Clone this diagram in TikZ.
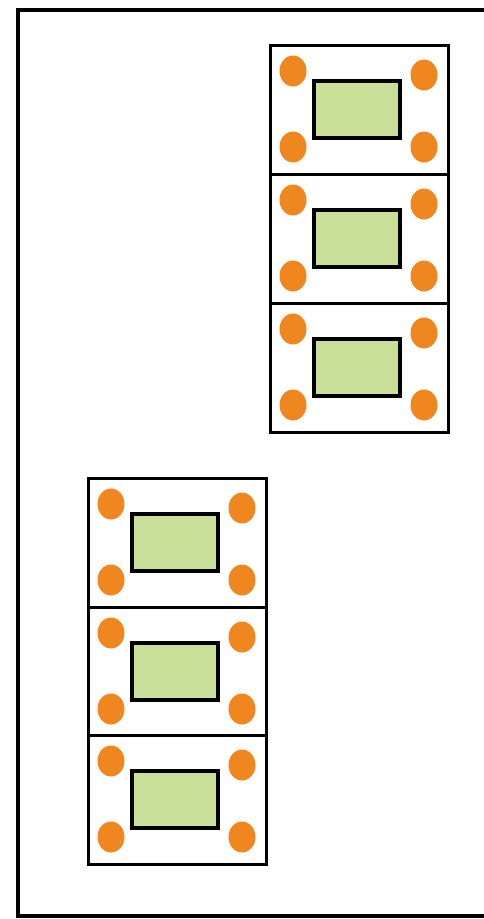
\documentclass[tikz,border=0pt]{standalone}
\usetikzlibrary{shapes.geometric}
\definecolor{dotorange}{HTML}{EF871E}
\definecolor{padgreen}{HTML}{C9DF97}
\tikzset{
  frameline/.style={line width=4pt, draw=black},
  modbox/.style={draw=black, line width=3pt, fill=white, rectangle, inner sep=0pt,
                 minimum width=178pt, minimum height=129pt, anchor=north west},
  pad/.style={draw=black, line width=3.5pt, fill=padgreen, rectangle, inner sep=0pt,
              minimum width=86pt, minimum height=57pt},
  dot/.style={fill=dotorange, ellipse, inner sep=0pt, minimum width=27pt, minimum height=31pt},
}
\begin{document}
\begin{tikzpicture}[x=1pt,y=-1pt]
\useasboundingbox (0,0) rectangle (484,919);
\fill[white] (0,0) rectangle (484,919);
\coordinate (ftr) at (490,10);
\coordinate (ftl) at (18,10);
\coordinate (fbl) at (18,916);
\coordinate (fbr) at (490,916);
\draw[frameline] (ftr) -- (ftl) -- (fbl) -- (fbr);
\foreach \n/\X/\Y in {a/269/44, b/269/173, c/269/302, d/87/477, e/87/606, f/87/734}{
  \node[modbox] (box\n) at (\X,\Y) {};
  \node[pad] (pad\n) at (\X+88,\Y+65.5) {};
  \node[dot] (tl\n) at (\X+24,\Y+27) {};
  \node[dot] (tr\n) at (\X+155,\Y+31) {};
  \node[dot] (bl\n) at (\X+24,\Y+103) {};
  \node[dot] (br\n) at (\X+155,\Y+103) {};
}
\end{tikzpicture}
\end{document}
